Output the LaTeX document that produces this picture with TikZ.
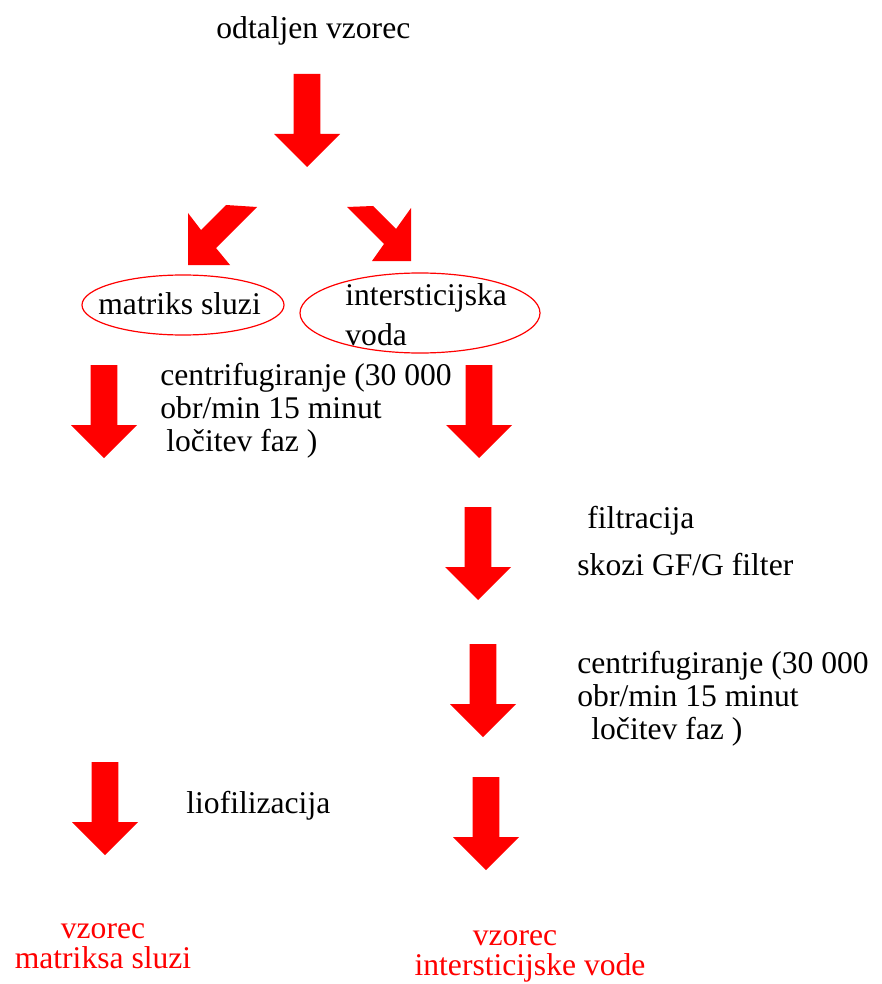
\documentclass[tikz,border=0pt]{standalone}
\usepackage{fontspec}
\setmainfont{Liberation Serif}
\tikzset{
    redarrow/.pic={
      \fill [red] (-13.3,0) -- (13.3,0) -- (13.3,60) -- (33,60) -- (0,93) -- (-33,60) -- (-13.3,60) -- cycle;
    },
    note/.style={anchor=base west, inner sep=0pt, align=left, font=\fontsize{15.8}{16.5}\selectfont},
    outcome/.style={anchor=base, inner sep=0pt, align=center, text=red, font=\fontsize{15.8}{15}\selectfont}
}
\begin{document}
\begin{tikzpicture}[x=0.5pt, y=-0.5pt]
    \useasboundingbox (0,0) rectangle (882,984);

    \node [note] (sample) at (216,39) {odtaljen vzorec};
    \pic at (307,74) {redarrow};

    \fill [red] (188,213) -- (188,265) -- (230,265) -- (216,248) -- (257,207) -- (226,205) -- (201,230) -- cycle;
    \fill [red] (347,207) -- (373,206) -- (396,229) -- (411,208) -- (411,261) -- (372,261) -- (384,244) -- cycle;

    \draw [red, line width=0.6pt] (183,305) circle [x radius=101, y radius=30];
    \node [note] (matrix) at (98,314) {matriks sluzi};

    \draw [red, line width=0.6pt] (420,313) circle [x radius=120, y radius=40];
    \node [note, font=\fontsize{15.8}{20}\selectfont] (water) at (345,345) {intersticijska\\voda};

    \pic at (104,365) {redarrow};
    \node [note] (spin) at (160,451) {centrifugiranje (30 000\\obr/min 15 minut\\\hspace{3pt}ločitev faz )};
    \pic at (479,365) {redarrow};

    \pic at (478,507) {redarrow};
    \node [note] (filter) at (587,528) {filtracija};
    \node [note] (glass) at (577,575) {skozi GF/G filter};

    \pic at (483,644) {redarrow};
    \node [note] (spinagain) at (577,739) {centrifugiranje (30 000\\obr/min 15 minut\\\hspace{7pt}ločitev faz )};

    \pic at (105,762) {redarrow};
    \node [note] (freeze) at (186,813) {liofilizacija};
    \pic at (486,777) {redarrow};

    \node [outcome] (matrixout) at (103,968) {vzorec\\matriksa sluzi};
    \node [outcome] (waterout) at (530,975) {vzorec\hspace*{15pt}\\intersticijske vode};
\end{tikzpicture}
\end{document}
